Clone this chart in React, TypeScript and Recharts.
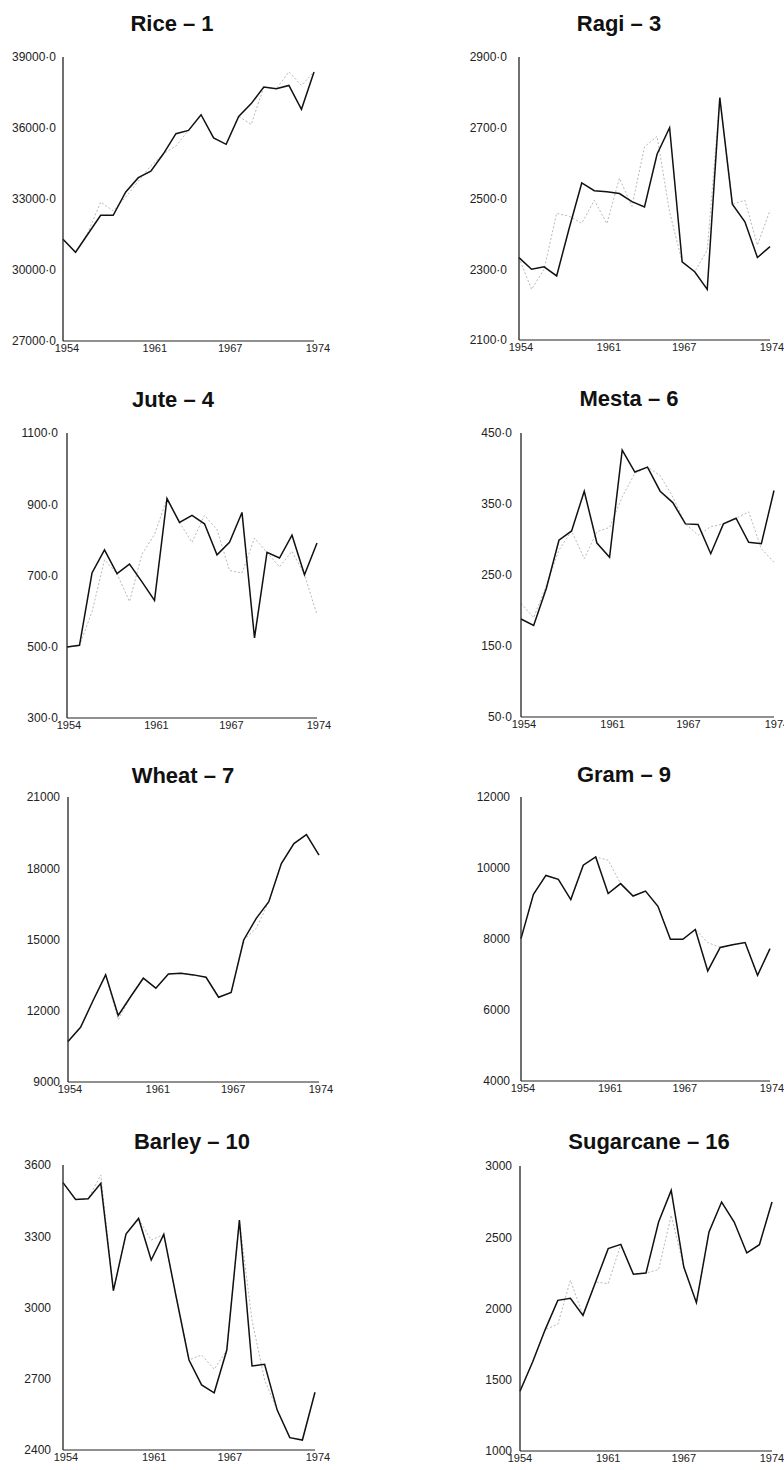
import React from 'react';
import { LineChart, Line, XAxis, YAxis } from 'recharts';

const years = [1954, 1955, 1956, 1957, 1958, 1959, 1960, 1961, 1962, 1963, 1964, 1965, 1966, 1967, 1968, 1969, 1970, 1971, 1972, 1973, 1974];
const yearTicks = [1954, 1961, 1967, 1974];

const riceActual = [31300, 30750, 31530, 32310, 32310, 33300, 33900, 34180, 34910, 35760, 35900, 36560, 35580, 35310, 36490, 37030, 37730, 37660, 37800, 36790, 38370];
const riceFitted = [31300, 30750, 31600, 32870, 32500, 33080, 33750, 34400, 34910, 35240, 35900, 36560, 35580, 35310, 36490, 36150, 37730, 37660, 38370, 37800, 38370];
const riceTicks = [27000, 30000, 33000, 36000, 39000];

const ragiActual = [2333, 2300, 2307, 2281, 2416, 2544, 2522, 2519, 2514, 2491, 2476, 2625, 2700, 2321, 2293, 2243, 2785, 2484, 2434, 2333, 2364];
const ragiFitted = [2333, 2243, 2300, 2458, 2450, 2430, 2495, 2429, 2557, 2478, 2646, 2676, 2462, 2321, 2293, 2354, 2785, 2484, 2495, 2368, 2467];
const ragiTicks = [2100, 2300, 2500, 2700, 2900];

const juteActual = [499, 504, 707, 772, 705, 732, 682, 630, 916, 849, 869, 845, 758, 793, 877, 525, 765, 749, 813, 702, 791];
const juteFitted = [499, 504, 598, 744, 705, 627, 760, 815, 916, 849, 793, 869, 829, 714, 707, 805, 765, 724, 768, 702, 590];
const juteTicks = [300, 500, 700, 900, 1100];

const mestaActual = [188, 179, 231, 299, 312, 368, 295, 275, 426, 395, 402, 368, 352, 322, 321, 280, 322, 330, 296, 294, 369];
const mestaFitted = [210, 190, 235, 285, 312, 273, 311, 317, 360, 393, 402, 390, 360, 322, 306, 318, 322, 330, 339, 287, 268];
const mestaTicks = [50, 150, 250, 350, 450];

const wheatActual = [10710, 11300, 12430, 13510, 11800, 12600, 13370, 12950, 13550, 13580, 13510, 13410, 12570, 12770, 14980, 15890, 16590, 18200, 19040, 19420, 18550];
const wheatFitted = [10710, 11300, 12430, 13510, 11620, 12600, 13370, 12950, 13550, 13580, 13510, 13410, 12570, 12770, 14980, 15470, 16590, 18200, 19040, 19420, 18550];
const wheatTicks = [9000, 12000, 15000, 18000, 21000];

const gramActual = [8010, 9260, 9790, 9680, 9110, 10080, 10310, 9280, 9560, 9210, 9350, 8920, 7990, 7990, 8270, 7100, 7760, 7840, 7900, 6980, 7730];
const gramFitted = [8010, 9260, 9790, 9680, 9110, 10080, 10310, 10220, 9560, 9210, 9350, 8920, 7990, 7990, 8270, 7900, 7760, 7840, 7900, 6980, 7730];
const gramTicks = [4000, 6000, 8000, 10000, 12000];

const barleyActual = [3526, 3455, 3458, 3523, 3071, 3309, 3375, 3200, 3308, 3040, 2779, 2674, 2641, 2821, 3368, 2754, 2761, 2568, 2452, 2442, 2643];
const barleyFitted = [3526, 3455, 3458, 3558, 3071, 3309, 3375, 3284, 3308, 3040, 2779, 2800, 2740, 2821, 3368, 2947, 2695, 2568, 2452, 2442, 2643];
const barleyTicks = [2400, 2700, 3000, 3300, 3600];

const sugarcaneActual = [1419, 1625, 1852, 2057, 2071, 1952, 2186, 2420, 2450, 2240, 2249, 2607, 2829, 2291, 2041, 2537, 2747, 2607, 2390, 2448, 2747];
const sugarcaneFitted = [1419, 1625, 1852, 1889, 2198, 1952, 2186, 2174, 2450, 2240, 2249, 2273, 2654, 2291, 2041, 2537, 2747, 2607, 2390, 2448, 2747];
const sugarcaneTicks = [1000, 1500, 2000, 2500, 3000];

const decimalFmt = (v: number) => `${v}·0`;
const plainFmt = (v: number) => `${v}`;

const FONT = '"Liberation Sans", Arial, Helvetica, sans-serif';

type PanelSpec = {
  title: string;
  actual: number[];
  fitted: number[];
  ticks: number[];
  fmt: (v: number) => string;
  x0: number; x1: number; y0: number; y1: number;
  gap: number;
  dx: number;
  tx: number; tb: number;
};

const panels: PanelSpec[] = [
  { title: 'Rice – 1', actual: riceActual, fitted: riceFitted, ticks: riceTicks, fmt: decimalFmt, x0: 63, x1: 314, y0: 57, y1: 341, gap: 7, dx: 4, tx: 172, tb: 32 },
  { title: 'Ragi – 3', actual: ragiActual, fitted: ragiFitted, ticks: ragiTicks, fmt: decimalFmt, x0: 519, x1: 770, y0: 57, y1: 340, gap: 12, dx: 2, tx: 619, tb: 32 },
  { title: 'Jute – 4', actual: juteActual, fitted: juteFitted, ticks: juteTicks, fmt: decimalFmt, x0: 67, x1: 317, y0: 433, y1: 718, gap: 9, dx: 2, tx: 173, tb: 408 },
  { title: 'Mesta – 6', actual: mestaActual, fitted: mestaFitted, ticks: mestaTicks, fmt: decimalFmt, x0: 521, x1: 774, y0: 433, y1: 717, gap: 9, dx: 3, tx: 629, tb: 407 },
  { title: 'Wheat – 7', actual: wheatActual, fitted: wheatFitted, ticks: wheatTicks, fmt: plainFmt, x0: 68, x1: 319, y0: 797, y1: 1082, gap: 8, dx: 2, tx: 183, tb: 784 },
  { title: 'Gram – 9', actual: gramActual, fitted: gramFitted, ticks: gramTicks, fmt: plainFmt, x0: 521, x1: 770, y0: 797, y1: 1081, gap: 11, dx: 2, tx: 624, tb: 783 },
  { title: 'Barley – 10', actual: barleyActual, fitted: barleyFitted, ticks: barleyTicks, fmt: plainFmt, x0: 63, x1: 315, y0: 1165, y1: 1450, gap: 12, dx: 3, tx: 192, tb: 1150 },
  { title: 'Sugarcane – 16', actual: sugarcaneActual, fitted: sugarcaneFitted, ticks: sugarcaneTicks, fmt: plainFmt, x0: 520, x1: 772, y0: 1166, y1: 1451, gap: 8, dx: 0, tx: 649, tb: 1150 },
];

const YW = 64;
const XH = 24;
const MT = 10;
const MR = 30;

function Panel({ p }: { p: PanelSpec }) {
  const data = years.map((y, i) => ({ year: y, actual: p.actual[i], fitted: p.fitted[i] }));
  const width = p.x1 - p.x0 + YW + MR;
  const height = p.y1 - p.y0 + MT + XH;
  const domain: [number, number] = [p.ticks[0], p.ticks[p.ticks.length - 1]];
  return (
    <>
      <div
        style={{
          position: 'absolute',
          left: p.tx - 150,
          width: 300,
          top: p.tb - 19,
          height: 24,
          textAlign: 'center',
          fontSize: 22,
          lineHeight: '22px',
          fontWeight: 'bold',
          fontFamily: FONT,
          color: '#111',
          whiteSpace: 'nowrap',
        }}
      >
        {p.title}
      </div>
      <div style={{ position: 'absolute', left: p.x0 - YW, top: p.y0 - MT }}>
        <LineChart width={width} height={height} data={data} margin={{ top: MT, right: MR, bottom: 0, left: 0 }}>
          <XAxis
            type="number"
            dataKey="year"
            domain={[1954, 1974]}
            ticks={yearTicks}
            interval={0}
            tickLine={false}
            tickSize={0}
            tickMargin={3}
            height={XH}
            axisLine={{ stroke: '#222', strokeWidth: 1.2 }}
            tick={{ fontSize: 11, fill: '#222', fontFamily: FONT, dx: p.dx }}
          />
          <YAxis
            type="number"
            domain={domain}
            ticks={p.ticks}
            interval={0}
            width={YW}
            tickLine={false}
            tickSize={0}
            tickMargin={p.gap}
            tickFormatter={p.fmt}
            axisLine={{ stroke: '#222', strokeWidth: 1.3 }}
            tick={{ fontSize: 12, fill: '#222', fontFamily: FONT }}
          />
          <Line
            type="linear"
            dataKey="fitted"
            stroke="#b8b8b8"
            strokeWidth={1}
            strokeDasharray="2 2"
            dot={false}
            activeDot={false}
            isAnimationActive={false}
          />
          <Line
            type="linear"
            dataKey="actual"
            stroke="#111"
            strokeWidth={1.5}
            dot={false}
            activeDot={false}
            isAnimationActive={false}
          />
        </LineChart>
      </div>
    </>
  );
}

export default function App() {
  return (
    <div style={{ position: 'absolute', left: 0, top: 0, width: 784, height: 1470, background: '#fff', overflow: 'hidden' }}>
      {panels.map((p) => (
        <Panel key={p.title} p={p} />
      ))}
    </div>
  );
}
